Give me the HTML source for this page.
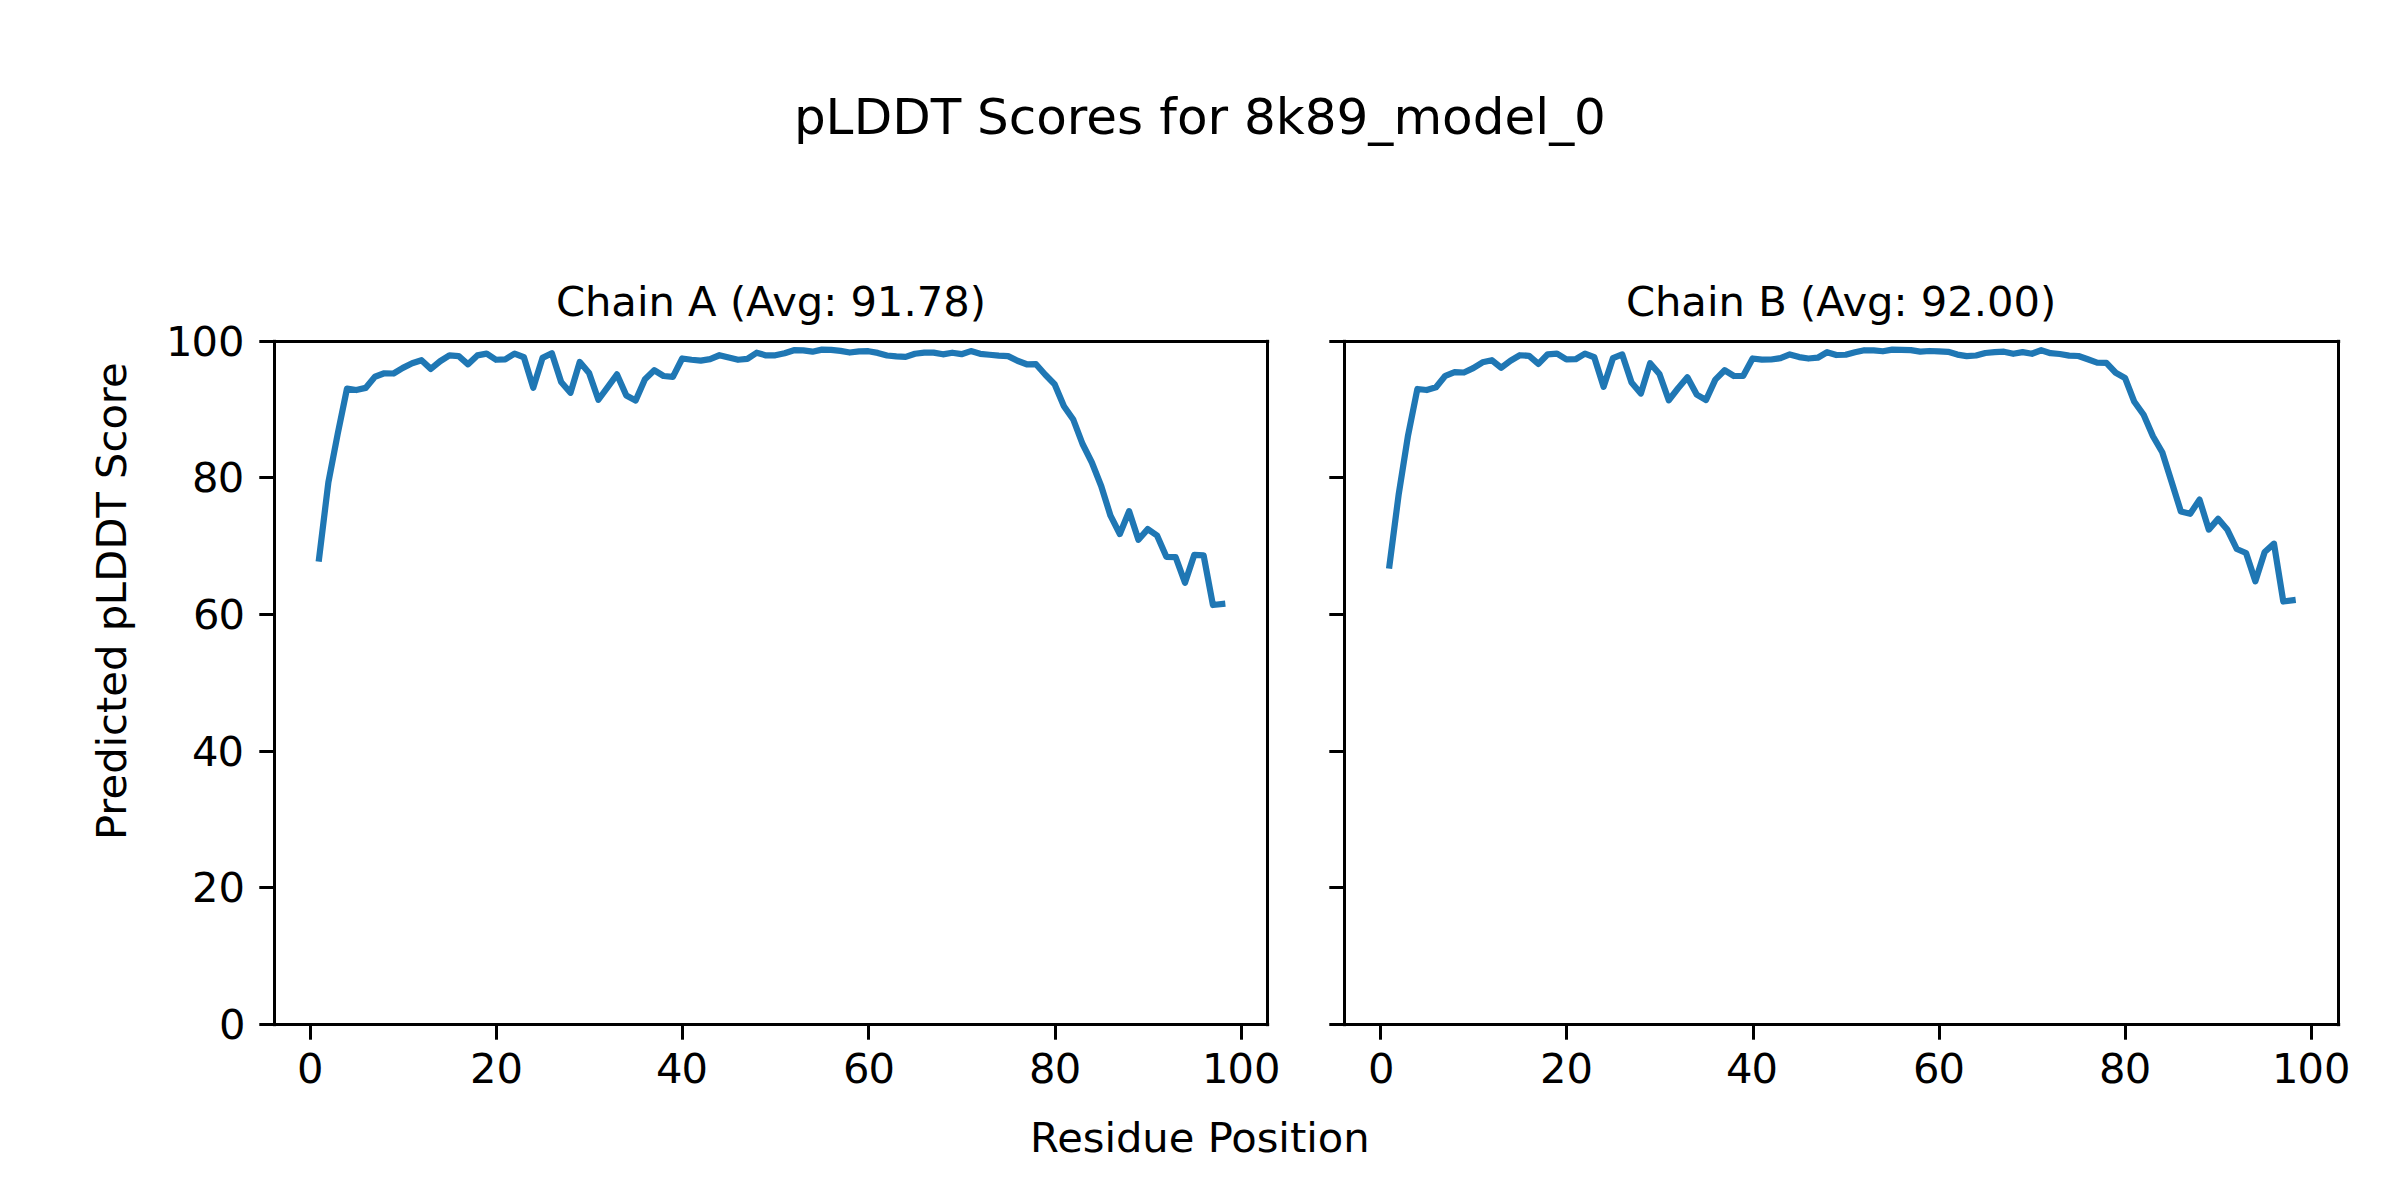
<!DOCTYPE html>
<html><head><meta charset="utf-8"><title>pLDDT Scores for 8k89_model_0</title>
<style>html,body{margin:0;padding:0;background:#fff;}svg{display:block;}text{font-family:"DejaVu Sans","Liberation Sans",sans-serif;fill:#000;}</style></head><body>
<svg width="2400" height="1200" viewBox="0 0 2400 1200">
<rect width="2400" height="1200" fill="#fff"/>
<text x="793.97 825.48 853.63 892.13 930.64 961.18 977.06 1008.85 1036.24 1066.76 1086.37 1117.12 1143.36 1159.30 1176.94 1207.46 1228.02 1244.05 1275.79 1304.67 1336.48 1368.20 1393.39 1442.09 1472.80 1504.47 1535.27 1549.22 1574.10" y="134" font-size="50">pLDDT Scores for 8k89_model_0</text>
<text x="1030.10 1057.13 1082.79 1104.46 1115.94 1142.32 1168.75 1194.38 1207.67 1231.19 1256.67 1278.33 1289.96 1306.21 1317.69 1343.14" y="1152" font-size="41.667">Residue Position</text>
<text transform="translate(126,840) rotate(-90)" x="0.04 24.27 40.63 66.19 92.58 104.09 127.09 143.38 168.94 195.38 208.75 234.82 258.36 290.49 322.48 347.91 361.06 387.59 410.44 435.77 452.13" y="0" font-size="41.667">Predicted pLDDT Score</text>
<g>
<text x="556.03 585.08 611.35 636.96 648.52 674.92 688.10 716.60 729.89 746.10 772.21 796.75 823.20 837.23 850.47 876.82 903.43 916.67 943.13 969.72" y="316" font-size="41.667">Chain A (Avg: 91.78)</text>
<polyline points="319.06,558.60 328.37,482.30 337.68,434.00 346.99,388.60 356.31,390.00 365.62,387.90 374.93,376.70 384.24,373.30 393.55,373.50 402.86,367.90 412.17,363.30 421.48,360.25 430.79,368.90 440.10,361.25 449.41,355.40 458.73,356.10 468.04,364.30 477.35,355.40 486.66,353.60 495.97,359.75 505.28,359.30 514.59,353.60 523.90,357.25 533.21,387.70 542.52,357.90 551.84,353.20 561.15,382.00 570.46,392.80 579.77,361.90 589.08,372.90 598.39,399.75 607.70,387.10 617.01,374.40 626.32,395.40 635.63,400.60 644.95,379.20 654.26,370.25 663.57,376.00 672.88,376.80 682.19,358.50 691.50,359.75 700.81,360.60 710.12,359.20 719.43,355.25 728.75,357.50 738.06,359.75 747.37,358.90 756.68,352.75 765.99,355.40 775.30,355.30 784.61,353.30 793.92,350.20 803.23,350.40 812.54,351.70 821.86,349.60 831.17,349.80 840.48,350.90 849.79,352.50 859.10,351.30 868.41,351.20 877.72,352.90 887.03,355.50 896.34,356.40 905.65,356.90 914.97,353.75 924.28,352.70 933.59,352.60 942.90,354.30 952.21,352.75 961.52,354.20 970.83,351.10 980.14,353.80 989.45,354.75 998.76,355.70 1008.08,356.10 1017.39,360.80 1026.70,364.30 1036.01,364.20 1045.32,374.80 1054.63,384.20 1063.94,406.25 1073.25,419.50 1082.56,444.00 1091.87,462.50 1101.18,486.00 1110.50,515.70 1119.81,534.00 1129.12,511.20 1138.43,539.80 1147.74,529.10 1157.05,535.50 1166.36,556.80 1175.67,557.20 1184.98,582.80 1194.30,554.80 1203.61,555.30 1212.92,605.00 1222.23,604.00" fill="none" stroke="#1f77b4" stroke-width="6.25" stroke-linejoin="round" stroke-linecap="square"/>
<rect x="309" y="1024.5" width="3" height="15.2" fill="#000"/>
<text x="297.03" y="1083" font-size="41.667">0</text>
<rect x="495" y="1024.5" width="3" height="15.2" fill="#000"/>
<text x="469.99 496.40" y="1083" font-size="41.667">20</text>
<rect x="681" y="1024.5" width="3" height="15.2" fill="#000"/>
<text x="656.12 681.53" y="1083" font-size="41.667">40</text>
<rect x="867" y="1024.5" width="3" height="15.2" fill="#000"/>
<text x="843.07 868.53" y="1083" font-size="41.667">60</text>
<rect x="1054" y="1024.5" width="3" height="15.2" fill="#000"/>
<text x="1029.10 1054.65" y="1083" font-size="41.667">80</text>
<rect x="1240" y="1024.5" width="3" height="15.2" fill="#000"/>
<text x="1201.92 1227.53 1254.03" y="1083" font-size="41.667">100</text>
<rect x="259.3" y="340" width="15.2" height="3" fill="#000"/>
<text x="165.92 191.53 218.03" y="356.0" font-size="41.667">100</text>
<rect x="259.3" y="476" width="15.2" height="3" fill="#000"/>
<text x="192.10 217.65" y="492.0" font-size="41.667">80</text>
<rect x="259.3" y="613" width="15.2" height="3" fill="#000"/>
<text x="193.07 218.53" y="629.0" font-size="41.667">60</text>
<rect x="259.3" y="750" width="15.2" height="3" fill="#000"/>
<text x="192.12 217.53" y="766.0" font-size="41.667">40</text>
<rect x="259.3" y="886" width="15.2" height="3" fill="#000"/>
<text x="191.99 218.40" y="902.0" font-size="41.667">20</text>
<rect x="259.3" y="1023" width="15.2" height="3" fill="#000"/>
<text x="219.03" y="1039.0" font-size="41.667">0</text>
<rect x="273" y="339.83" width="3" height="686.34" fill="#000"/>
<rect x="1266" y="339.83" width="3" height="686.34" fill="#000"/>
<rect x="272.83" y="340" width="996.34" height="3" fill="#000"/>
<rect x="272.83" y="1023" width="996.34" height="3" fill="#000"/>
</g>
<g>
<text x="1626.03 1655.08 1681.35 1706.96 1718.52 1744.92 1758.25 1786.83 1800.01 1816.23 1842.44 1866.97 1893.42 1907.45 1920.84 1947.27 1973.68 1986.93 2013.43 2039.97" y="316" font-size="41.667">Chain B (Avg: 92.00)</text>
<polyline points="1389.44,565.60 1398.75,493.90 1408.06,435.30 1417.37,389.00 1426.69,390.00 1436.00,387.30 1445.31,375.80 1454.62,372.10 1463.93,372.50 1473.24,368.20 1482.55,362.30 1491.86,360.25 1501.17,367.70 1510.48,360.70 1519.80,355.25 1529.11,355.80 1538.42,363.90 1547.73,354.30 1557.04,353.60 1566.35,359.30 1575.66,359.20 1584.97,353.60 1594.28,357.25 1603.59,386.80 1612.91,358.20 1622.22,354.40 1631.53,382.50 1640.84,393.50 1650.15,363.20 1659.46,374.00 1668.77,400.20 1678.08,388.30 1687.39,377.30 1696.70,394.60 1706.02,400.00 1715.33,379.60 1724.64,370.25 1733.95,376.00 1743.26,375.80 1752.57,358.50 1761.88,359.70 1771.19,359.50 1780.50,358.20 1789.81,354.40 1799.12,357.10 1808.44,358.50 1817.75,357.70 1827.06,352.20 1836.37,355.00 1845.68,354.75 1854.99,352.30 1864.30,350.25 1873.61,350.30 1882.92,351.25 1892.24,349.70 1901.55,349.80 1910.86,350.20 1920.17,351.70 1929.48,351.00 1938.79,351.30 1948.10,351.80 1957.41,354.60 1966.72,356.10 1976.03,355.50 1985.35,353.00 1994.66,352.10 2003.97,351.70 2013.28,353.75 2022.59,352.20 2031.90,353.75 2041.21,350.25 2050.52,353.20 2059.83,354.00 2069.14,355.60 2078.45,356.00 2087.77,359.30 2097.08,362.60 2106.39,362.90 2115.70,372.75 2125.01,377.90 2134.32,401.80 2143.63,414.80 2152.94,436.20 2162.25,452.20 2171.57,481.80 2180.88,511.50 2190.19,513.80 2199.50,499.60 2208.81,529.60 2218.12,518.90 2227.43,529.80 2236.74,549.00 2246.05,553.00 2255.36,581.30 2264.68,552.00 2273.99,543.70 2283.30,601.50 2292.61,600.30" fill="none" stroke="#1f77b4" stroke-width="6.25" stroke-linejoin="round" stroke-linecap="square"/>
<rect x="1379" y="1024.5" width="3" height="15.2" fill="#000"/>
<text x="1368.03" y="1083" font-size="41.667">0</text>
<rect x="1565" y="1024.5" width="3" height="15.2" fill="#000"/>
<text x="1539.99 1566.40" y="1083" font-size="41.667">20</text>
<rect x="1752" y="1024.5" width="3" height="15.2" fill="#000"/>
<text x="1726.12 1751.53" y="1083" font-size="41.667">40</text>
<rect x="1938" y="1024.5" width="3" height="15.2" fill="#000"/>
<text x="1913.07 1938.53" y="1083" font-size="41.667">60</text>
<rect x="2124" y="1024.5" width="3" height="15.2" fill="#000"/>
<text x="2099.10 2124.65" y="1083" font-size="41.667">80</text>
<rect x="2310" y="1024.5" width="3" height="15.2" fill="#000"/>
<text x="2271.92 2297.53 2324.03" y="1083" font-size="41.667">100</text>
<rect x="1329.3" y="340" width="15.2" height="3" fill="#000"/>
<rect x="1329.3" y="476" width="15.2" height="3" fill="#000"/>
<rect x="1329.3" y="613" width="15.2" height="3" fill="#000"/>
<rect x="1329.3" y="750" width="15.2" height="3" fill="#000"/>
<rect x="1329.3" y="886" width="15.2" height="3" fill="#000"/>
<rect x="1329.3" y="1023" width="15.2" height="3" fill="#000"/>
<rect x="1343" y="339.83" width="3" height="686.34" fill="#000"/>
<rect x="2337" y="339.83" width="3" height="686.34" fill="#000"/>
<rect x="1342.83" y="340" width="997.34" height="3" fill="#000"/>
<rect x="1342.83" y="1023" width="997.34" height="3" fill="#000"/>
</g>
</svg></body></html>
